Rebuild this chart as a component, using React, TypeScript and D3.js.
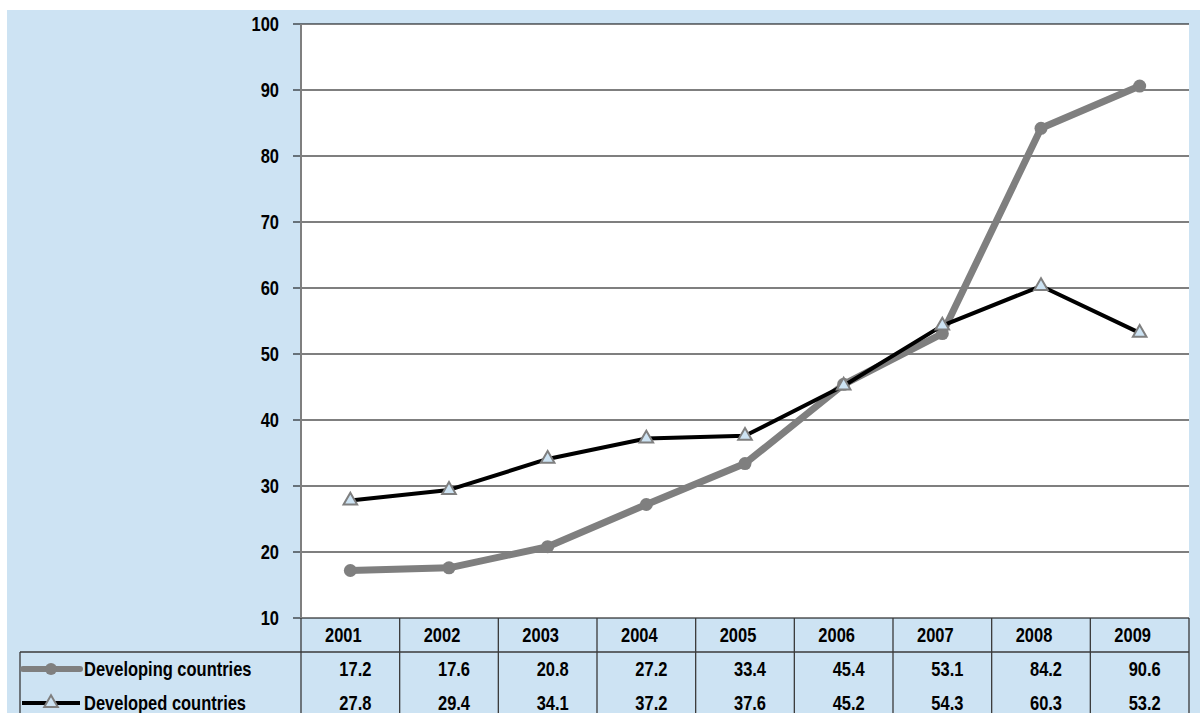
import React from "react";
import * as d3 from "d3";

const years = ["2001", "2002", "2003", "2004", "2005", "2006", "2007", "2008", "2009"];
const developing = [17.2, 17.6, 20.8, 27.2, 33.4, 45.4, 53.1, 84.2, 90.6];
const developed = [27.8, 29.4, 34.1, 37.2, 37.6, 45.2, 54.3, 60.3, 53.2];
const yTicks = [10, 20, 30, 40, 50, 60, 70, 80, 90, 100];
const seriesNames = ["Developing countries", "Developed countries"];

const W = 1200;
const H = 713;
const FONT = "'Liberation Sans', Arial, sans-serif";

function T({
  x,
  y,
  anchor = "start",
  children,
}: {
  x: number;
  y: number;
  anchor?: "start" | "middle" | "end";
  children: React.ReactNode;
}) {
  return (
    <text
      transform={`translate(${x},${y}) scale(0.845,1)`}
      dy="0.36em"
      textAnchor={anchor}
      fontSize={19.5}
      fontWeight="bold"
      fill="#000"
    >
      {children}
    </text>
  );
}

export default function App() {
  const left = 301;
  const right = 1189;
  const top = 24;
  const bottom = 618;
  const x = d3.scaleBand<string>().domain(years).range([left, right]);
  const y = d3.scaleLinear().domain([10, 100]).range([bottom, top]);
  const cx = (yr: string) => (x(yr) as number) + x.bandwidth() / 2;

  const line = d3
    .line<number>()
    .x((_, i) => cx(years[i]))
    .y((v) => y(v));

  const tri = d3.symbol().type(d3.symbolTriangle).size(80)() as string;
  const tableLeft = 20;
  const headerBottom = 652;
  const row1 = 669;
  const row2 = 703;
  const lineColor = "#3a3a3a";

  return (
    <svg
      width={W}
      height={H}
      style={{ position: "absolute", left: 0, top: 0, display: "block" }}
      fontFamily={FONT}
    >
      <rect x={0} y={0} width={W} height={H} fill="#ffffff" />
      <rect x={7} y={10} width={W - 7} height={H - 10} fill="#cde3f3" />
      <rect x={left} y={top} width={right - left} height={bottom - top} fill="#ffffff" />

      {/* gridlines and y ticks */}
      {yTicks.map((t) => (
        <g key={t}>
          <line x1={293} x2={right} y1={y(t)} y2={y(t)} stroke="#000" strokeWidth={1.1} />
          <T x={279} y={y(t)} anchor="end">
            {t}
          </T>
        </g>
      ))}
      <line x1={left} x2={left} y1={top} y2={bottom} stroke="#7f7f7f" strokeWidth={2} />

      {/* table */}
      {years.map((yr) => (
        <line
          key={"v" + yr}
          x1={x(yr) as number}
          x2={x(yr) as number}
          y1={bottom}
          y2={H}
          stroke={lineColor}
          strokeWidth={1.3}
        />
      ))}
      <line x1={right} x2={right} y1={bottom} y2={H} stroke={lineColor} strokeWidth={1.3} />
      <line x1={tableLeft} x2={right} y1={headerBottom} y2={headerBottom} stroke={lineColor} strokeWidth={1.3} />
      <line x1={tableLeft} x2={tableLeft} y1={headerBottom} y2={H} stroke={lineColor} strokeWidth={1.3} />

      {years.map((yr, i) => (
        <g key={"t" + yr}>
          <T x={cx(yr) - 7} y={635} anchor="middle">
            {yr}
          </T>
          <T x={cx(yr) + 5} y={row1} anchor="middle">
            {developing[i].toFixed(1)}
          </T>
          <T x={cx(yr) + 5} y={row2} anchor="middle">
            {developed[i].toFixed(1)}
          </T>
        </g>
      ))}

      {/* legend keys */}
      <line x1={23} x2={80} y1={row1} y2={row1} stroke="#7f7f7f" strokeWidth={6} strokeLinecap="round" />
      <circle cx={51} cy={row1} r={6} fill="#7f7f7f" />
      <line x1={22} x2={80} y1={row2} y2={row2} stroke="#000" strokeWidth={4} />
      <path d={tri} transform={`translate(51,${row2})`} fill="#cde3f3" stroke="#7f7f7f" strokeWidth={2} />
      <T x={84} y={row1}>
        {seriesNames[0]}
      </T>
      <T x={84} y={row2}>
        {seriesNames[1]}
      </T>

      {/* series */}
      <path d={line(developing) as string} fill="none" stroke="#7f7f7f" strokeWidth={7} strokeLinejoin="round" />
      {developing.map((v, i) => (
        <circle key={"c" + i} cx={cx(years[i])} cy={y(v)} r={6.5} fill="#7f7f7f" />
      ))}
      <path d={line(developed) as string} fill="none" stroke="#000" strokeWidth={4} strokeLinejoin="round" />
      {developed.map((v, i) => (
        <path
          key={"tr" + i}
          d={tri}
          transform={`translate(${cx(years[i])},${y(v)})`}
          fill="#cde3f3"
          stroke="#7f7f7f"
          strokeWidth={2}
        />
      ))}
    </svg>
  );
}
